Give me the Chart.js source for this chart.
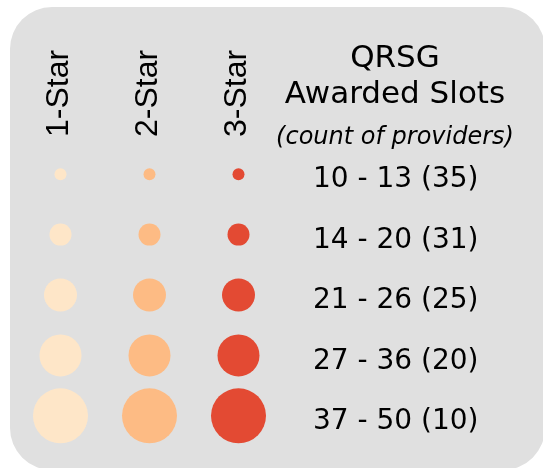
<!DOCTYPE html>
<html>
<head>
<meta charset="utf-8">
<script src="https://cdn.jsdelivr.net/npm/chart.js@4"></script>
<style>
  html, body { margin: 0; padding: 0; background: #fff; }
</style>
</head>
<body>
<canvas id="myChart" width="543" height="468"></canvas>
<script>
const starLevels = ['1-Star', '2-Star', '3-Star'];
const slotRanges = ['10 - 13 (35)', '14 - 20 (31)', '21 - 26 (25)', '27 - 36 (20)', '37 - 50 (10)'];
const bubbleRadius = [6, 11, 16.5, 21, 27.5];
const starColors = ['#fee6c8', '#fdbb84', '#e34a33'];
const headerLines = ['QRSG', 'Awarded Slots'];
const headerNote = '(count of providers)';

// bubbles reserve their radius as padding round the chart by default; the panel layout is fixed here
Chart.BubbleController.prototype.getMaxOverflow = function() { return 0; };

const datasets = starLevels.map(function(star, i) {
    return {
        label: star,
        data: slotRanges.map(function(range, j) {
            return { x: star, y: range, r: bubbleRadius[j] };
        }),
        backgroundColor: starColors[i],
        borderWidth: 0,
        hoverBorderWidth: 0,
        clip: false
    };
});

// grey rounded panel behind everything
const panel = {
    id: 'panel',
    beforeDraw: function(chart) {
        const ctx = chart.ctx;
        ctx.save();
        ctx.fillStyle = '#e0e0e0';
        ctx.beginPath();
        ctx.roundRect(10, 7, 535, 463, 42);
        ctx.fill();
        ctx.restore();
    }
};

// heading above the slot labels
const heading = {
    id: 'heading',
    afterDraw: function(chart) {
        const ctx = chart.ctx;
        const cx = 395;
        ctx.save();
        ctx.fillStyle = '#000';
        ctx.textAlign = 'center';
        ctx.textBaseline = 'alphabetic';
        ctx.font = '31px "DejaVu Sans"';
        ctx.fillText(headerLines[0], cx, 67);
        ctx.fillText(headerLines[1], cx, 103);
        ctx.font = 'italic 24px "DejaVu Sans"';
        ctx.fillText(headerNote, cx, 144);
        ctx.restore();
    }
};

const config = {
    type: 'bubble',
    data: { datasets: datasets },
    options: {
        responsive: false,
        animation: false,
        layout: { padding: { left: 16, top: 0, right: 0, bottom: 22 } },
        plugins: {
            legend: { display: false },
            tooltip: { enabled: false }
        },
        scales: {
            x: {
                type: 'category',
                labels: starLevels,
                position: 'top',
                offset: true,
                grid: { display: false, drawTicks: false },
                border: { display: false },
                ticks: {
                    minRotation: 90,
                    maxRotation: 90,
                    padding: 7,
                    labelOffset: 37.5,
                    color: '#000',
                    font: { family: '"Liberation Sans", Arial', size: 32 }
                },
                afterFit: function(scale) {
                    scale.height = 144;
                    scale.paddingLeft = 0;
                    scale.paddingRight = 0;
                }
            },
            y: {
                type: 'category',
                labels: slotRanges,
                position: 'right',
                offset: true,
                grid: { display: false, drawTicks: false },
                border: { display: false },
                ticks: {
                    padding: 30,
                    labelOffset: 6,
                    color: '#000',
                    font: { family: '"DejaVu Sans"', size: 28 }
                },
                afterFit: function(scale) {
                    scale.width = 260;
                    scale.paddingTop = 0;
                    scale.paddingBottom = 0;
                }
            }
        }
    },
    plugins: [panel, heading]
};

var myChart = new Chart(document.getElementById('myChart'), config);
</script>
</body>
</html>
